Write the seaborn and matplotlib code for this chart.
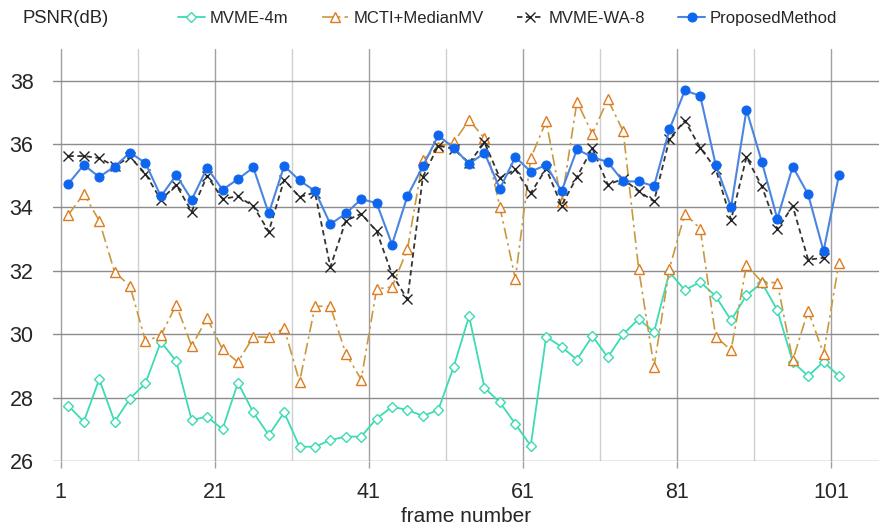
import numpy as np
import pandas as pd
import matplotlib
matplotlib.use("Agg")
import matplotlib.pyplot as plt
from matplotlib.ticker import FixedLocator
import seaborn as sns

frames = list(range(2, 104, 2))

mvme_4m = [27.74, 27.24, 28.58, 27.24, 27.97, 28.45, 29.76, 29.15, 27.29, 27.40,
           27.00, 28.47, 27.53, 26.82, 27.53, 26.45, 26.45, 26.66, 26.77, 26.77,
           27.34, 27.71, 27.61, 27.42, 27.61, 28.97, 30.57, 28.31, 27.85, 27.17,
           26.48, 29.92, 29.60, 29.20, 29.94, 29.27, 30.00, 30.48, 30.07, 31.96,
           31.39, 31.65, 31.20, 30.44, 31.23, 31.62, 30.76, 29.13, 28.68, 29.13,
           28.68]
mcti_median = [33.77, 34.43, 33.58, 31.96, 31.52, 29.78, 29.96, 30.93, 29.62, 30.51,
               29.52, 29.12, 29.92, 29.90, 30.19, 28.50, 30.88, 30.88, 29.39, 28.57,
               31.43, 31.49, 32.68, 35.50, 35.92, 36.05, 36.76, 36.18, 34.01, 31.75,
               35.55, 36.72, 34.17, 37.34, 36.32, 37.41, 36.40, 32.07, 28.97, 32.07,
               33.80, 33.33, 29.92, 29.50, 32.17, 31.65, 31.62, 29.18, 30.74, 29.39,
               32.25]
mvme_wa8 = [35.62, 35.62, 35.56, 35.30, 35.59, 35.06, 34.24, 34.71, 33.87, 35.00,
            34.27, 34.35, 34.04, 33.24, 34.87, 34.33, 34.47, 32.12, 33.58, 33.80,
            33.25, 31.89, 31.10, 34.96, 35.95, 35.85, 35.40, 36.05, 34.93, 35.20,
            34.45, 35.22, 34.06, 34.96, 35.87, 34.72, 34.90, 34.51, 34.19, 36.16,
            36.74, 35.88, 35.22, 33.61, 35.59, 34.66, 33.31, 34.04, 32.35, 32.41]
proposed = [34.75, 35.34, 34.96, 35.29, 35.73, 35.40, 34.35, 35.02, 34.24, 35.25,
            34.56, 34.89, 35.26, 33.81, 35.31, 34.85, 34.52, 33.47, 33.81, 34.26,
            34.14, 32.83, 34.36, 35.30, 36.27, 35.88, 35.37, 35.72, 34.59, 35.59,
            35.13, 35.34, 34.51, 35.83, 35.59, 35.43, 34.82, 34.82, 34.67, 36.46,
            37.69, 37.52, 35.35, 34.01, 37.08, 35.43, 33.64, 35.29, 34.41, 32.62,
            35.02]

x_ticks = [1, 21, 41, 61, 81, 101]
x_minor = [11, 31, 51, 71, 91]
y_ticks = [26, 28, 30, 32, 34, 36, 38]

sns.set_theme(style="white")
plt.rcParams['font.family'] = ['Liberation Sans', 'DejaVu Sans']

fig = plt.figure(figsize=(8.83, 5.32), dpi=100)
ax = fig.add_axes([0.060, 0.1335, 0.9355, 0.7745])

sns.lineplot(x=frames, y=mvme_4m, ax=ax, color="#3ddbb4", lw=1.3,
             marker="D", markersize=5, markerfacecolor="white",
             markeredgecolor="#3ddbb4", markeredgewidth=1.0, label="MVME-4m")
sns.lineplot(x=frames, y=mcti_median, ax=ax, color="#c9993f", lw=1.2,
             linestyle=(0, (7, 2.5, 1.5, 2.5)), marker="^", markersize=7,
             markerfacecolor="white", markeredgecolor="#e07a1f",
             markeredgewidth=1.0, label="MCTI+MedianMV")
sns.lineplot(x=frames[:-1], y=mvme_wa8, ax=ax, color="#333333", lw=1.3,
             linestyle=(0, (3, 2)), marker="x", markersize=6.5,
             markeredgecolor="#222222", markeredgewidth=1.0, label="MVME-WA-8")
sns.lineplot(x=frames, y=proposed, ax=ax, color="#4a86e0", lw=1.5,
             marker="o", markersize=6.5, markerfacecolor="#0f66ee",
             markeredgecolor="#0f66ee", label="ProposedMethod")

ax.set_xlim(0, 107.2)
ax.set_ylim(26, 39)
ax.xaxis.set_major_locator(FixedLocator(x_ticks))
ax.xaxis.set_minor_locator(FixedLocator(x_minor))
ax.set_yticks(y_ticks)
ax.grid(True, which="major", axis="y", color="#8c8c8c", lw=1.0)
ax.grid(True, which="major", axis="x", color="#a0a0a0", lw=1.0)
ax.grid(True, which="minor", axis="x", color="#cfcfcf", lw=1.0)
for s in ax.spines.values():
    s.set_visible(False)
ax.tick_params(axis="x", which="major", length=5, width=1, color="#a0a0a0",
               direction="out", labelsize=15.5, pad=10, bottom=True)
ax.tick_params(axis="x", which="minor", length=0)
ax.tick_params(axis="y", length=0, labelsize=15.5, pad=14)
ax.set_xlabel("frame number", fontsize=15, labelpad=3)
ax.set_ylabel("")

handles, labels = ax.get_legend_handles_labels()
if ax.get_legend() is not None:
    ax.get_legend().remove()
fig.legend(handles, labels, loc="center left", bbox_to_anchor=(0.2016, 0.966),
           ncol=4, frameon=False, fontsize=12, handlelength=1.6,
           handletextpad=0.3, columnspacing=2.0, borderpad=0, borderaxespad=0)
fig.text(0.025, 0.966, "PSNR(dB)", fontsize=13.3, va="center", ha="left")

fig.savefig("out.png", dpi=100)
